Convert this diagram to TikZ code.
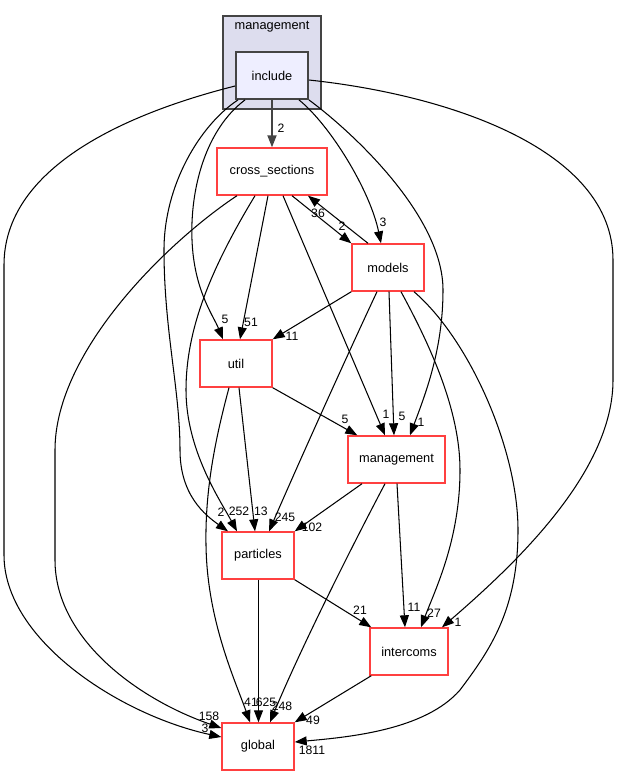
\documentclass[tikz,border=0pt]{standalone}
\usepackage{fontspec}
\setmainfont{Liberation Sans}
\usetikzlibrary{arrows.meta}
\definecolor{boxred}{RGB}{255,64,64}
\definecolor{clusterfill}{RGB}{221,221,238}
\definecolor{clusterline}{RGB}{68,68,68}
\definecolor{incfill}{RGB}{238,238,255}
\begin{document}
\begin{tikzpicture}[x=1pt,y=-1pt,
  dep/.style={draw=black, line width=1.05pt, -{Triangle[length=12pt,width=9pt]}},
  dirbox/.style={draw=boxred, line width=1.4pt, fill=white, minimum height=47pt, inner sep=0pt, font=\fontsize{12.8}{14}\selectfont},
  incbox/.style={draw=clusterline, line width=1.8pt, fill=incfill, minimum height=47pt, minimum width=72pt, inner sep=0pt, font=\fontsize{12.8}{14}\selectfont},
  lab/.style={inner sep=0pt, font=\fontsize{12.2}{13}\selectfont},
]
\useasboundingbox (0,0) rectangle (619,777);
\fill[white] (0,0) rectangle (619,777);

% cluster
\draw[draw=clusterline, line width=1.8pt, fill=clusterfill] (223,16) rectangle (321,109);
\node[inner sep=0pt, font=\fontsize{12.8}{14}\selectfont] (clab) at (272,27) {management};

% nodes
\node[incbox] (inc) at (272,75.5) {include};
\node[dirbox, minimum width=110pt] (cs) at (272,171.5) {cross\_sections};
\node[dirbox, minimum width=72pt] (mod) at (388,267.5) {models};
\node[dirbox, minimum width=72pt] (utl) at (236,363.5) {util};
\node[dirbox, minimum width=97pt] (mgt) at (396.5,459.5) {management};
\node[dirbox, minimum width=72pt] (par) at (258,555.5) {particles};
\node[dirbox, minimum width=78pt] (ico) at (409,651.5) {intercoms};
\node[dirbox, minimum width=72pt] (glb) at (258,746.5) {global};

% labels
\node[lab] (l1) at (281,128) {2};
\node[lab] (l2) at (318,213) {36};
\node[lab] (l3) at (342,226) {2};
\node[lab] (l4) at (383,222) {3};
\node[lab] (l5) at (225,319) {5};
\node[lab] (l6) at (251,322) {51};
\node[lab] (l7) at (292,336) {11};
\node[lab] (l8) at (345,419) {5};
\node[lab] (l9) at (386,414) {1};
\node[lab] (l10) at (402,416) {5};
\node[lab] (l11) at (421,422) {1};
\node[lab] (l12) at (221,512) {2};
\node[lab] (l13) at (239,511) {252};
\node[lab] (l14) at (261,511) {13};
\node[lab] (l15) at (285,517) {245};
\node[lab] (l16) at (312,527) {102};
\node[lab] (l17) at (360,610) {21};
\node[lab] (l18) at (414,607) {11};
\node[lab] (l19) at (434,613) {27};
\node[lab] (l20) at (458,622) {1};
\node[lab] (l21) at (209,716) {158};
\node[lab] (l22) at (205,728) {3};
\node[lab] (l23) at (251,702) {41};
\node[lab] (l24) at (266,702) {625};
\node[lab] (l25) at (282,706) {248};
\node[lab] (l26) at (313,720) {49};
\node[lab] (l27) at (312,750) {1811};

% edges
\draw[dep, line width=1.8pt, draw=clusterline] (inc.south) -- (cs.north);
\draw[dep] ([yshift=-10.5pt]inc.west) .. controls (120,115) and (4,170) .. (4,265) -- (4,555) .. controls (4,640) and (120,715) .. ([yshift=9.5pt]glb.west);
\draw[dep] ([xshift=-35pt]cs.south) .. controls (170,240) and (55,350) .. (55,450) -- (55,560) .. controls (55,640) and (140,700) .. ([yshift=18.5pt]glb.west);
\draw[dep] ([xshift=-34pt]inc.south) .. controls (200,125) and (164,185) .. (164,250) .. controls (164,330) and (180,390) .. (180,450) .. controls (180,495) and (205,515) .. ([xshift=-30pt]par.north);
\draw[dep] ([xshift=-27pt]inc.south) .. controls (205,130) and (190,190) .. (192,240) .. controls (194,290) and (213,315) .. ([xshift=-13pt]utl.north);
\draw[dep] ([xshift=27pt]inc.south) .. controls (330,125) and (370,190) .. ([xshift=-7pt]mod.north);
\draw[dep] (inc.south east) .. controls (350,130) and (443,215) .. (443,290) .. controls (443,350) and (425,395) .. ([xshift=13.5pt]mgt.north);
\draw[dep] ([yshift=-4.5pt]inc.east) .. controls (450,95) and (613,150) .. (613,260) -- (613,380) .. controls (613,470) and (520,560) .. ([xshift=33pt]ico.north);
\draw[dep] ([xshift=-4pt]cs.south) -- ([xshift=4pt]utl.north);
\draw[dep] ([xshift=-17pt]cs.south) .. controls (210,270) and (186,330) .. (186,390) .. controls (186,450) and (220,500) .. ([xshift=-21pt]par.north);
\draw[dep] ([xshift=20pt]cs.south) -- (mod.north west);
\draw[dep] ([xshift=-20pt]mod.north) -- ([xshift=36pt]cs.south);
\draw[dep] ([xshift=11pt]cs.south) -- ([xshift=-11.5pt]mgt.north);
\draw[dep] (mod.south west) -- (utl.north east);
\draw[dep] ([xshift=-11pt]mod.south) .. controls (345,360) and (300,460) .. ([xshift=11pt]par.north);
\draw[dep] ([xshift=1pt]mod.south) -- ([xshift=-2.5pt]mgt.north);
\draw[dep] ([xshift=13pt]mod.south) .. controls (430,345) and (460,410) .. (460,470) .. controls (460,540) and (435,590) .. ([xshift=12pt]ico.north);
\draw[dep] ([xshift=26pt]mod.south) .. controls (470,340) and (518,450) .. (518,530) .. controls (518,610) and (490,650) .. (460,690) .. controls (425,730) and (350,737) .. ([yshift=4.5pt]glb.east);
\draw[dep] (utl.south east) -- ([xshift=10pt]mgt.north west);
\draw[dep] ([xshift=3pt]utl.south) -- ([xshift=-3pt]par.north);
\draw[dep] ([xshift=-7pt]utl.south) .. controls (215,440) and (205,490) .. (206,545) .. controls (207,620) and (235,680) .. ([xshift=-8pt]glb.north);
\draw[dep] ([xshift=-34.5pt]mgt.south) -- (par.north east);
\draw[dep] ([xshift=0.5pt]mgt.south) -- ([xshift=-4pt]ico.north);
\draw[dep] ([xshift=-11.5pt]mgt.south) .. controls (350,550) and (300,650) .. ([xshift=12pt]glb.north);
\draw[dep] (par.south east) -- ([xshift=2pt]ico.north west);
\draw[dep] ([xshift=0.5pt]par.south) -- ([xshift=0.5pt]glb.north);
\draw[dep] ([xshift=2pt]ico.south west) -- (glb.north east);
\end{tikzpicture}
\end{document}
